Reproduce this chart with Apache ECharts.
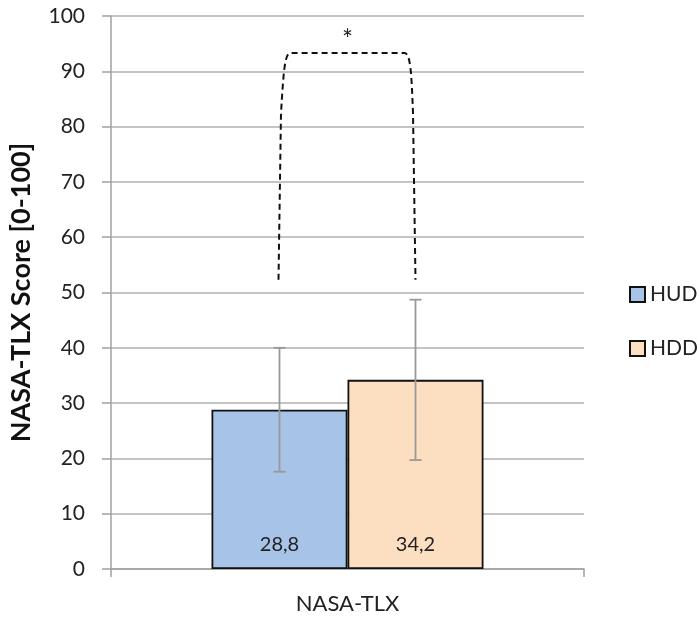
<!DOCTYPE html>
<html><head><meta charset="utf-8">
<script src="https://cdn.jsdelivr.net/npm/echarts@6/dist/echarts.min.js"></script>
<style>html,body{margin:0;padding:0;background:#fff}#c{width:697px;height:619px}</style>
</head><body><div id="c"></div>
<script>
const categories = ['NASA-TLX'];
const seriesNames = ['HUD', 'HDD'];
const hudValues = [28.8];
const hddValues = [34.2];
const hudError = [11.2];
const hddError = [14.5];
const bracketBottom = [52.3, 52.3];
const bracketTop = [93.3];
const sigLabel = '*';
const yTicks = [0, 10, 20, 30, 40, 50, 60, 70, 80, 90, 100];

const FONT = 'Lato, "Open Sans", sans-serif';
const BAR_W = 136;
const colors = ['#A8C3E8', '#FCDEC1'];

function errRender(offset, errArr) {
  return function (params, api) {
    const i = params.dataIndex;
    const v = api.value(1);
    const e = errArr[i];
    const hi = api.coord([api.value(0), v + e]);
    const lo = api.coord([api.value(0), v - e]);
    const x = hi[0] + offset;
    const cap = 6;
    const st = { stroke: '#999999', lineWidth: 1.8 };
    return { type: 'group', children: [
      { type: 'line', shape: { x1: x, y1: hi[1], x2: x, y2: lo[1] }, style: st },
      { type: 'line', shape: { x1: x - cap, y1: hi[1], x2: x + cap, y2: hi[1] }, style: st },
      { type: 'line', shape: { x1: x - cap, y1: lo[1], x2: x + cap, y2: lo[1] }, style: st }
    ]};
  };
}

const chart = echarts.init(document.getElementById('c'), null, { renderer: 'canvas' });
chart.setOption({
  animation: false,
  textStyle: { fontFamily: FONT },
  grid: { left: 109, right: 113, top: 16, bottom: 50, containLabel: false },
  legend: {
    orient: 'vertical', left: 624, top: 279,
    itemWidth: 15, itemHeight: 15, itemGap: 33,
    icon: 'rect',
    textStyle: { fontFamily: FONT, fontSize: 21, color: '#222', padding: [0, 0, 0, 0] },
    data: seriesNames
  },
  xAxis: {
    type: 'category', data: categories,
    axisLine: { lineStyle: { color: '#a0a0a0', width: 1.5 } },
    axisTick: { show: true, length: 8, lineStyle: { color: '#a0a0a0', width: 1.5 } },
    axisLabel: { fontFamily: FONT, fontSize: 22, color: '#222', margin: 24 }
  },
  yAxis: {
    type: 'value', min: 0, max: 100, interval: 10,
    name: 'NASA-TLX Score [0-100]', nameLocation: 'middle', nameGap: 76,
    nameTextStyle: { fontFamily: FONT, fontSize: 27, fontWeight: 'bold', color: '#111' },
    axisLine: { show: true, lineStyle: { color: '#a0a0a0', width: 1.5 } },
    axisTick: { show: true, length: 9, lineStyle: { color: '#a0a0a0', width: 1.5 } },
    axisLabel: { fontFamily: FONT, fontSize: 21, color: '#222', margin: 26,
      formatter: v => yTicks.includes(v) ? String(v) : '' },
    splitLine: { lineStyle: { color: '#b0b0b0', width: 1.6 } }
  },
  series: [
    { name: 'HUD', type: 'bar', data: hudValues, barWidth: BAR_W, barGap: '0%',
      itemStyle: { color: colors[0], borderColor: '#111', borderWidth: 1.8 },
      label: { show: true, position: 'insideBottom', distance: 14, fontFamily: FONT, fontSize: 20, color: '#222',
        formatter: p => String(p.value).replace('.', ',') } },
    { name: 'HDD', type: 'bar', data: hddValues, barWidth: BAR_W, barGap: '0%',
      itemStyle: { color: colors[1], borderColor: '#111', borderWidth: 1.8 },
      label: { show: true, position: 'insideBottom', distance: 14, fontFamily: FONT, fontSize: 20, color: '#222',
        formatter: p => String(p.value).replace('.', ',') } },
    { type: 'custom', name: 'errHUD', silent: true, z: 5,
      data: categories.map((c, i) => [c, hudValues[i]]),
      renderItem: errRender(-BAR_W / 2, hudError) },
    { type: 'custom', name: 'errHDD', silent: true, z: 5,
      data: categories.map((c, i) => [c, hddValues[i]]),
      renderItem: errRender(BAR_W / 2, hddError) },
    { type: 'custom', name: 'bracket', silent: true, z: 6,
      data: categories.map((c, i) => [c, bracketTop[i]]),
      renderItem: function (params, api) {
        const top = api.coord([api.value(0), api.value(1)]);
        const bl = api.coord([api.value(0), bracketBottom[0]]);
        const br = api.coord([api.value(0), bracketBottom[1]]);
        const x1 = top[0] - BAR_W / 2 - 1, x2 = top[0] + BAR_W / 2;
        const yt = top[1];
        const d = 'M' + x1 + ' ' + bl[1] +
          ' L' + (x1 + 2.5) + ' ' + (yt + 60) +
          ' C' + (x1 + 5) + ' ' + (yt + 20) + ' ' + (x1 + 6) + ' ' + yt + ' ' + (x1 + 12) + ' ' + yt +
          ' L' + (x2 - 11) + ' ' + yt +
          ' C' + (x2 - 5) + ' ' + yt + ' ' + (x2 - 4) + ' ' + (yt + 20) + ' ' + (x2 - 2.5) + ' ' + (yt + 60) +
          ' L' + x2 + ' ' + br[1];
        return { type: 'group', children: [
          { type: 'path', shape: { pathData: d },
            style: { stroke: '#111', fill: null, lineWidth: 2, lineDash: [6, 4] } },
          { type: 'text', x: top[0], y: yt - 12,
            style: { text: sigLabel, fontFamily: FONT, fontSize: 26, fill: '#222', align: 'center', verticalAlign: 'middle' } }
        ]};
      } }
  ]
});
</script></body></html>
